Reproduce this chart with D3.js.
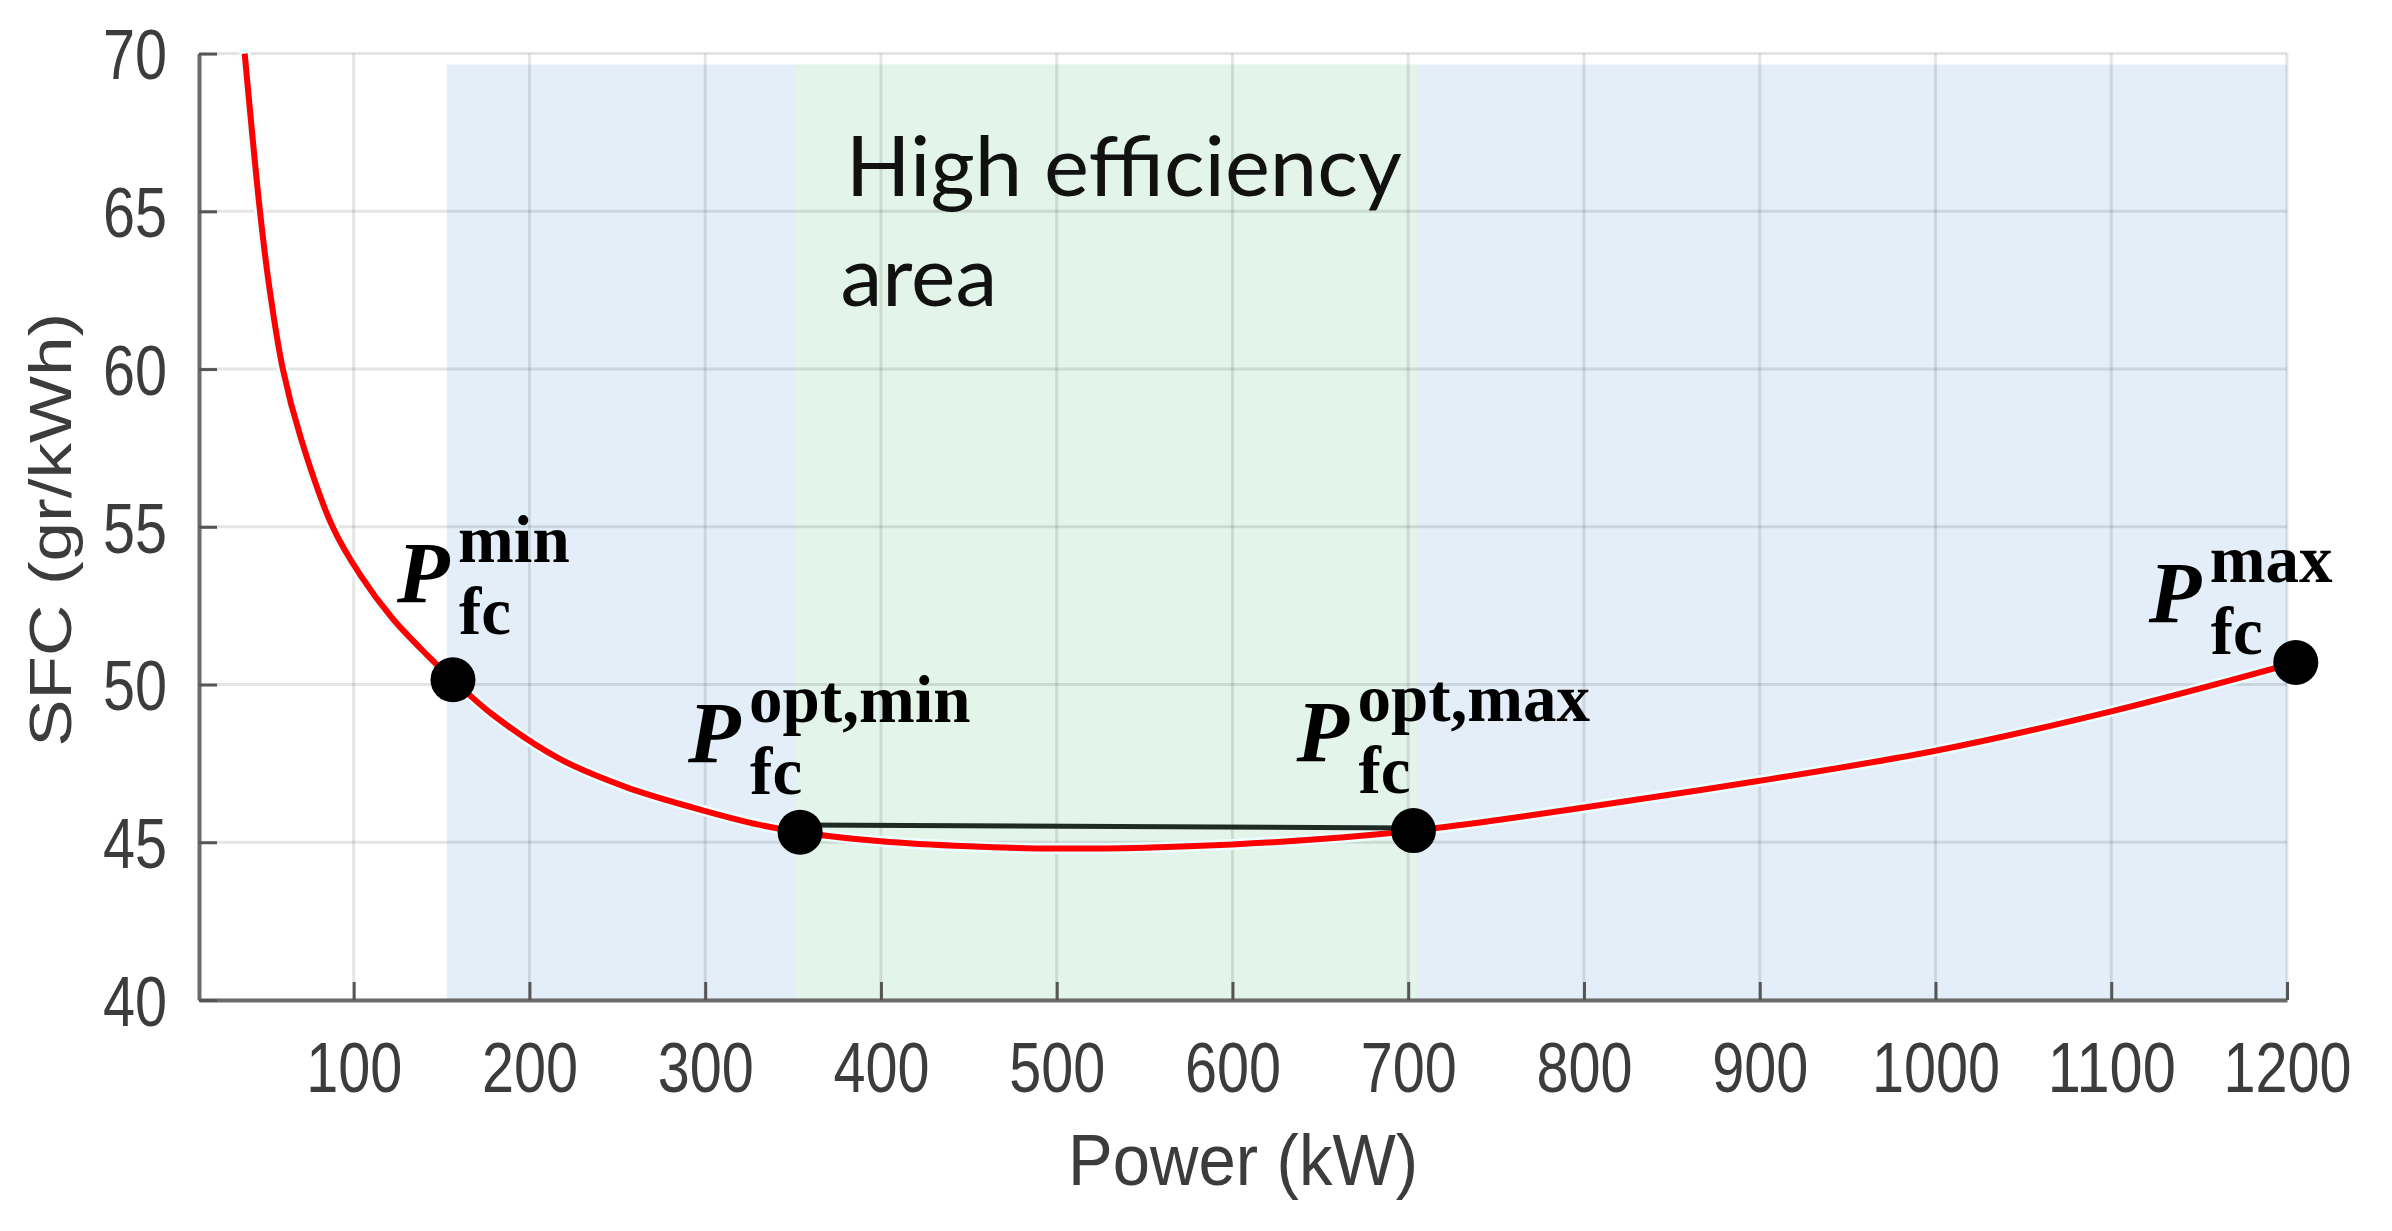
<!DOCTYPE html>
<html>
<head>
<meta charset="utf-8">
<script src="https://cdn.jsdelivr.net/npm/d3@7"></script>
<style>
  body { margin: 0; background: #fff; }
  svg { display: block; }
</style>
</head>
<body>
<div id="chart"></div>
<script>
// SFC curve (kW, gr/kWh)
const powerKW = [38, 46.7, 52, 59.7, 70, 88, 104, 122, 141.5, 156.5, 179, 217, 255, 293, 331, 354, 400, 450, 500, 550, 600, 650, 700, 750, 800, 900, 1000, 1100, 1205];
const sfcValues = [70, 65, 62.6, 60, 57.8, 55, 53.45, 52.1, 50.95, 50.15, 49.05, 47.65, 46.75, 46.1, 45.55, 45.32, 45.03, 44.87, 44.8, 44.83, 44.93, 45.1, 45.35, 45.7, 46.1, 46.95, 47.9, 49.15, 50.7];

// marked operating points
const markerPower = [156.5, 354, 703, 1205];
const markerSfc = [50.15, 45.32, 45.37, 50.7];
const markerSup = ['min', 'opt,min', 'opt,max', 'max'];

// line joining the two optimal points
const optLinePower = [354, 703];
const optLineSfc = [45.55, 45.45];

// shaded bands (kW)
const bandFrom = [153, 351];
const bandTo = [1200, 705];
const bandTop = 69.65;

const xTicks = [100, 200, 300, 400, 500, 600, 700, 800, 900, 1000, 1100, 1200];
const yTicks = [40, 45, 50, 55, 60, 65, 70];

const W = 2392, H = 1231;

const svg = d3.select('#chart').append('svg')
    .attr('width', W)
    .attr('height', H);

const x = d3.scaleLinear().domain([12, 1200]).range([199, 2287]);
const y = d3.scaleLinear().domain([40, 70]).range([1000, 53.6]);

// bands
const bandColors = ['#e3eef8', '#e3f4ea'];
svg.selectAll('rect.band')
    .data(bandFrom.map((f, i) => ({ from: f, to: bandTo[i], color: bandColors[i] })))
    .enter().append('rect')
    .attr('class', 'band')
    .attr('x', d => x(d.from))
    .attr('width', d => x(d.to) - x(d.from))
    .attr('y', y(bandTop))
    .attr('height', y(40) - y(bandTop))
    .attr('fill', d => d.color);

// grid
const grid = svg.append('g').attr('stroke', '#000').attr('stroke-opacity', 0.1).attr('stroke-width', 3);
grid.selectAll('line.gx').data(xTicks).enter().append('line')
    .attr('x1', d => x(d)).attr('x2', d => x(d))
    .attr('y1', y(40)).attr('y2', y(70));
grid.selectAll('line.gy').data(yTicks).enter().append('line')
    .attr('x1', x(12)).attr('x2', x(1200))
    .attr('y1', d => y(d)).attr('y2', d => y(d));

// axes
const xAxis = d3.axisBottom(x).tickValues(xTicks).tickSizeInner(-18).tickSizeOuter(0).tickPadding(42).tickFormat(d3.format('d'));
const yAxis = d3.axisLeft(y).tickValues(yTicks).tickSizeInner(-18).tickSizeOuter(0).tickPadding(32).tickFormat(d3.format('d'));

const gx = svg.append('g').attr('transform', `translate(0,${y(40)})`).call(xAxis);
const gy = svg.append('g').attr('transform', `translate(${x(12)},0)`).call(yAxis);

[gx, gy].forEach(g => {
    g.select('.domain').attr('stroke', '#6b6b6b').attr('stroke-width', 4);
    g.selectAll('.tick line').attr('stroke', '#555').attr('stroke-width', 3);
    g.selectAll('.tick text')
        .attr('fill', '#3c3c3c')
        .style('font-family', '"Liberation Sans", Arial, sans-serif')
        .style('font-size', '70px')
        .attr('lengthAdjust', 'spacingAndGlyphs')
        .attr('textLength', function() { return this.textContent.length * 32; });
});
gy.selectAll('.tick text').attr('dy', '0.36em');

// axis titles
svg.append('text')
    .attr('x', (x(12) + x(1200)) / 2)
    .attr('y', 1185)
    .attr('text-anchor', 'middle')
    .attr('fill', '#3c3c3c')
    .style('font-family', '"Liberation Sans", Arial, sans-serif')
    .style('font-size', '72px')
    .attr('textLength', 350)
    .attr('lengthAdjust', 'spacingAndGlyphs')
    .text('Power (kW)');

svg.append('text')
    .attr('transform', `translate(71,${(y(40) + y(70)) / 2 + 3}) rotate(-90)`)
    .attr('text-anchor', 'middle')
    .attr('fill', '#3c3c3c')
    .style('font-family', '"Liberation Sans", Arial, sans-serif')
    .style('font-size', '60px')
    .attr('textLength', 434)
    .attr('lengthAdjust', 'spacingAndGlyphs')
    .text('SFC (gr/kWh)');

// area label
const areaLabel = svg.append('text')
    .attr('fill', '#111')
    .style('font-family', 'Lato, "Open Sans", sans-serif')
    .style('font-size', '84px');
areaLabel.append('tspan')
    .attr('x', x(380)).attr('y', y(65.5))
    .attr('textLength', 556).attr('lengthAdjust', 'spacingAndGlyphs')
    .text('High efficiency');
areaLabel.append('tspan')
    .attr('x', x(377)).attr('y', y(65.5) + 110)
    .text('area');

// SFC curve
const curve = powerKW.map((p, i) => [p, sfcValues[i]]);
const line = d3.line()
    .x(d => x(d[0]))
    .y(d => y(d[1]))
    .curve(d3.curveCatmullRom.alpha(0.5));

svg.append('path')
    .datum(curve)
    .attr('d', line)
    .attr('fill', 'none')
    .attr('stroke', '#eaffff')
    .attr('stroke-width', 11)
    .attr('stroke-linecap', 'round');

svg.append('path')
    .datum(curve)
    .attr('d', line)
    .attr('fill', 'none')
    .attr('stroke', '#ff0000')
    .attr('stroke-width', 6);

// optimal range line
svg.append('line')
    .attr('x1', x(optLinePower[0])).attr('y1', y(optLineSfc[0]))
    .attr('x2', x(optLinePower[1])).attr('y2', y(optLineSfc[1]))
    .attr('stroke', '#1d2b24')
    .attr('stroke-width', 5);

// points
const markers = markerPower.map((p, i) => ({ p: p, s: markerSfc[i], sup: markerSup[i] }));
svg.selectAll('circle.pt')
    .data(markers)
    .enter().append('circle')
    .attr('class', 'pt')
    .attr('cx', d => x(d.p))
    .attr('cy', d => y(d.s))
    .attr('r', 22.5)
    .attr('fill', '#000');

// P labels: offset of the "P" from its dot
const labelOffset = [[-56, -78], [-112, -70], [-117, -70], [-147, -40]];
const labels = svg.selectAll('g.plabel')
    .data(markers)
    .enter().append('g')
    .attr('class', 'plabel')
    .attr('transform', (d, i) => `translate(${x(d.p) + labelOffset[i][0]},${y(d.s) + labelOffset[i][1]})`)
    .style('font-family', '"Liberation Serif", "Times New Roman", serif')
    .style('font-weight', 'bold')
    .attr('fill', '#000');

labels.append('text')
    .style('font-style', 'italic')
    .style('font-size', '86px')
    .text('P');
labels.append('text')
    .attr('x', 61).attr('y', -40)
    .style('font-size', '67px')
    .text(d => d.sup);
labels.append('text')
    .attr('x', 62).attr('y', 32)
    .style('font-size', '67px')
    .text('fc');
</script>
</body>
</html>
